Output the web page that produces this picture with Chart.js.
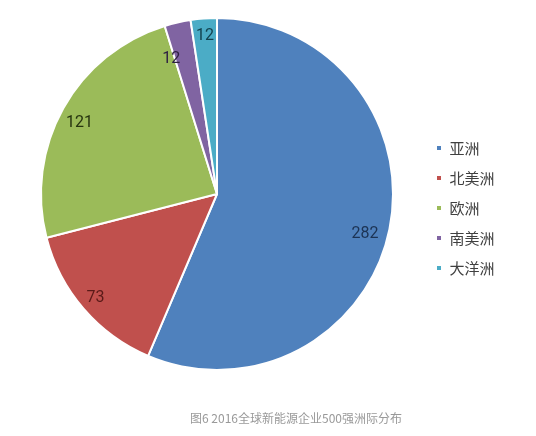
<!DOCTYPE html>
<html>
<head>
<meta charset="utf-8">
<script src="https://cdn.jsdelivr.net/npm/chart.js@4/dist/chart.umd.min.js"></script>
<style>
  html, body { margin: 0; padding: 0; background: #fff; }
  #wrap { position: relative; width: 536px; height: 436px; }
  #caption {
    position: absolute; left: 190px; top: 410px;
    font: 12px/16px "Noto Sans CJK SC", "Noto Sans", sans-serif;
    color: #999999; white-space: nowrap;
  }
</style>
</head>
<body>
<div id="wrap">
  <canvas id="c" width="536" height="436"></canvas>
  <div id="caption"></div>
</div>
<script>
const regions = ['亚洲', '北美洲', '欧洲', '南美洲', '大洋洲'];
const companyCounts = [282, 73, 121, 12, 12];
const sliceColors = ['#4F81BD', '#C0504D', '#9BBB59', '#8064A2', '#4BACC6'];
const labelColors = ['#1C3354', '#5A1A18', '#26340F', '#2E2142', '#12424F'];
const captionText = '图6 2016全球新能源企业500强洲际分布';

document.getElementById('caption').textContent = captionText;

// Value labels placed inside each slice along its mid-angle
const sliceLabels = {
  id: 'sliceLabels',
  afterDatasetsDraw(chart, args, opts) {
    const ctx = chart.ctx;
    const meta = chart.getDatasetMeta(0);
    ctx.save();
    ctx.font = opts.font;
    ctx.textAlign = 'center';
    ctx.textBaseline = 'middle';
    meta.data.forEach((arc, i) => {
      const p = arc.getProps(['x', 'y', 'startAngle', 'endAngle', 'outerRadius'], true);
      const mid = (p.startAngle + p.endAngle) / 2 + opts.angleShift[i];
      const r = p.outerRadius * opts.radii[i];
      ctx.fillStyle = labelColors[i];
      ctx.fillText(String(chart.data.datasets[0].data[i]), p.x + Math.cos(mid) * r, p.y + Math.sin(mid) * r);
    });
    ctx.restore();
  }
};

new Chart(document.getElementById('c'), {
  type: 'pie',
  data: {
    labels: regions,
    datasets: [{
      data: companyCounts,
      backgroundColor: sliceColors,
      borderColor: '#ffffff',
      borderWidth: 2
    }]
  },
  plugins: [sliceLabels],
  options: {
    responsive: false,
    animation: false,
    layout: { padding: { left: 13, top: 17, right: 31.5, bottom: 65 } },
    plugins: {
      tooltip: { enabled: false },
      legend: {
        position: 'right',
        fullSize: false,
        title: { display: true, text: '', font: { size: 10, lineHeight: 1 }, padding: { top: 18, bottom: 0 } },
        labels: {
          boxWidth: 6, boxHeight: 6, padding: 15,
          color: '#404040',
          font: { family: '"Noto Sans CJK SC", "Noto Sans", sans-serif', size: 15 }
        }
      },
      sliceLabels: {
        font: '16px Roboto, "Liberation Sans", sans-serif',
        radii: [0.87, 0.91, 0.88, 0.81, 0.9],
        angleShift: [0.06, 0, -0.03, -0.1, 0]
      }
    }
  }
});
</script>
</body>
</html>
